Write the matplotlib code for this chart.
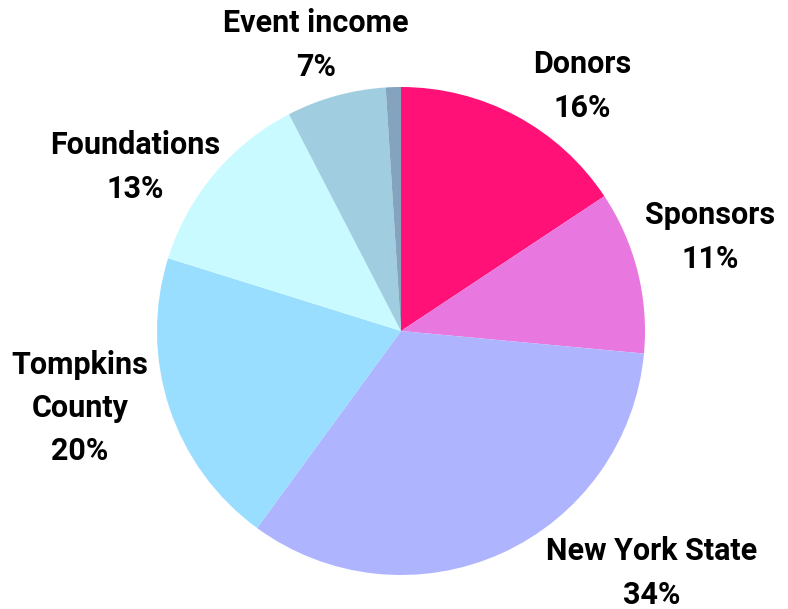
import matplotlib
matplotlib.use("Agg")
import matplotlib.pyplot as plt

# funding sources, clockwise from the top
sources = ["Donors", "Sponsors", "New York State", "Tompkins\nCounty",
           "Foundations", "Event income", ""]
shares = [15.7, 10.8, 33.6, 19.8, 12.6, 6.6, 1.0]
pct_text = ["16%", "11%", "34%", "20%", "13%", "7%", ""]
colors = ["#FF1177", "#E877E0", "#AFB4FF", "#99DDFF", "#C8FAFF", "#A0CDE0", "#84A3BE"]

# label anchor points (pie radius = 1)
label_pos = [(0.742, 1.004), (1.266, 0.385), (1.029, -0.992), (-1.316, -0.316),
             (-1.090, 0.672), (-0.348, 1.172), (0, 0)]

plt.rcParams['font.family'] = ['Roboto', 'DejaVu Sans']

fig = plt.figure(figsize=(7.88, 6.09), dpi=100)
ax = fig.add_axes([0, 0, 1, 1])
ax.pie(shares, colors=colors, startangle=90, counterclock=False, radius=1,
       wedgeprops=dict(linewidth=0))
ax.set_aspect('auto')
ax.set_xlim(-401 / 244, (788 - 401) / 244)
ax.set_ylim(-(609 - 331) / 244, 331 / 244)
ax.axis('off')

for name, pct, (x, y) in zip(sources, pct_text, label_pos):
    if not name:
        continue
    ax.text(x, y, name + "\n" + pct, ha='center', va='center',
            fontsize=22, fontweight='bold', linespacing=1.55, color='black')

fig.savefig("out.png", dpi=100)
